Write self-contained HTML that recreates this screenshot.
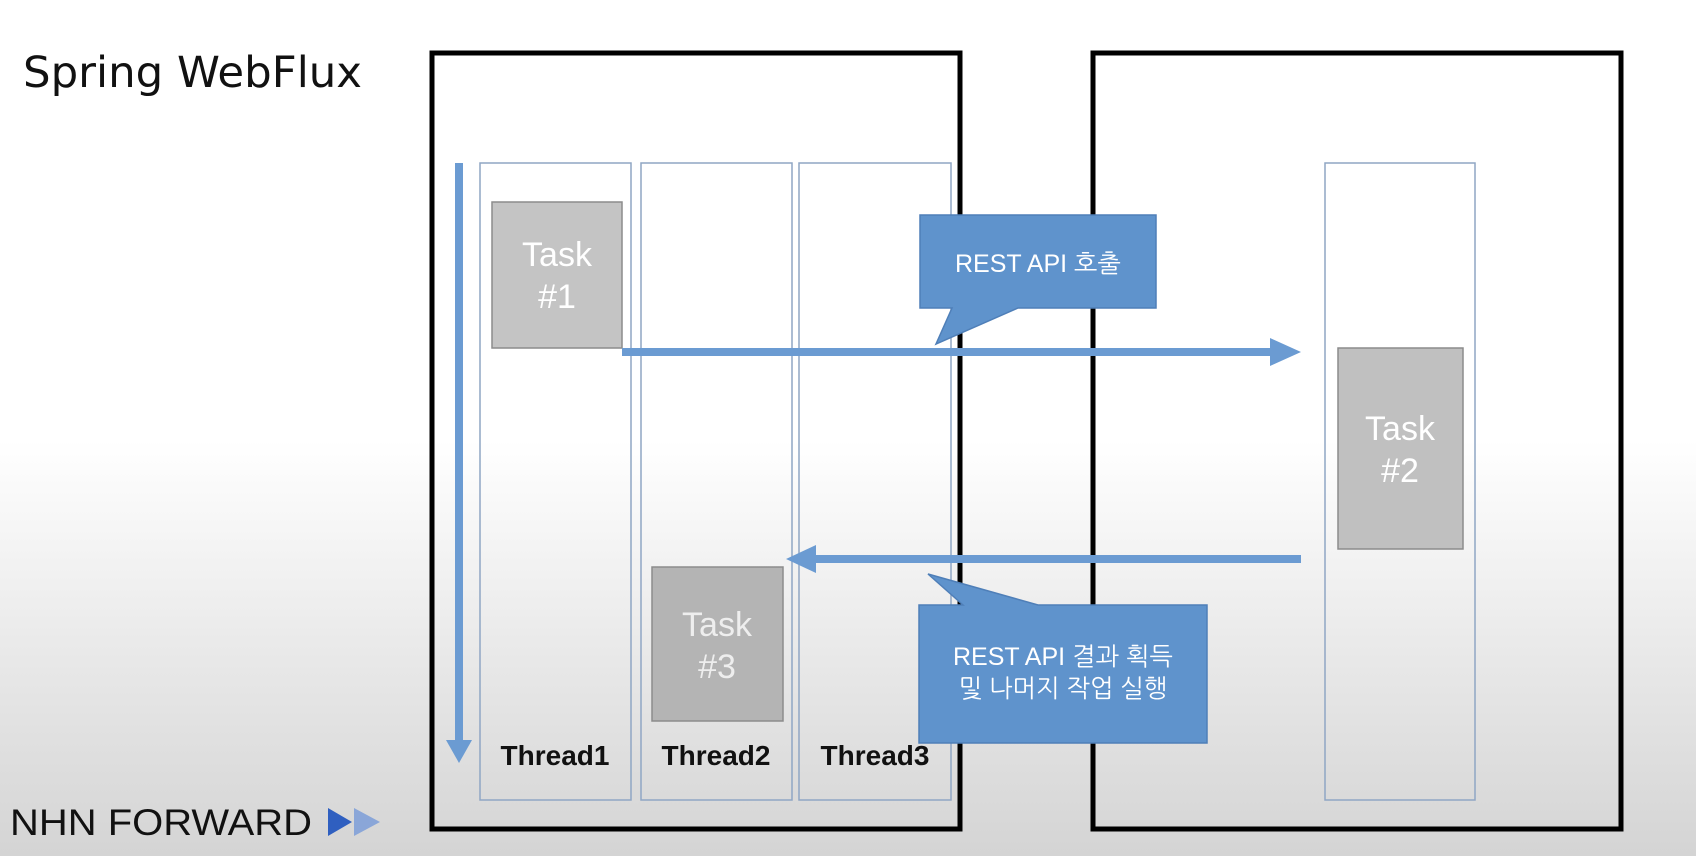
<!DOCTYPE html>
<html><head><meta charset="utf-8"><style>
html,body{margin:0;padding:0;}
body{width:1696px;height:856px;overflow:hidden;background:linear-gradient(to bottom,#ffffff 0px,#ffffff 440px,#e4e4e4 700px,#d4d4d4 856px);}
svg{position:absolute;left:0;top:0;}
text{font-family:"Liberation Sans","NanumGothic","Noto Sans CJK KR",sans-serif;}
</style></head><body>
<svg width="1696" height="856" viewBox="0 0 1696 856">
<text x="23" y="87" font-size="43" fill="#111" textLength="339" lengthAdjust="spacingAndGlyphs" style="font-family:'DejaVu Sans',sans-serif">Spring WebFlux</text>
<rect x="432" y="53" width="528" height="776" fill="none" stroke="#000" stroke-width="5"/>
<rect x="1093" y="53" width="528" height="776" fill="none" stroke="#000" stroke-width="5"/>
<rect x="480" y="163" width="151" height="637" fill="none" stroke="#8fa6c4" stroke-width="1.5"/>
<rect x="641" y="163" width="151" height="637" fill="none" stroke="#8fa6c4" stroke-width="1.5"/>
<rect x="799" y="163" width="152" height="637" fill="none" stroke="#8fa6c4" stroke-width="1.5"/>
<rect x="1325" y="163" width="150" height="637" fill="none" stroke="#8fa6c4" stroke-width="1.5"/>
<rect x="455" y="163" width="8" height="580" fill="#6b9bd2"/>
<polygon points="446,740 472,740 459,763" fill="#6b9bd2"/>
<rect x="492" y="202" width="130" height="146" fill="#c4c4c4" stroke="#8c8c8c" stroke-width="1.5"/>
<text x="557" y="266" font-size="34" fill="#fff" text-anchor="middle">Task</text>
<text x="557" y="308" font-size="34" fill="#fff" text-anchor="middle">#1</text>
<rect x="652" y="567" width="131" height="154" fill="#b4b4b4" stroke="#8c8c8c" stroke-width="1.5"/>
<text x="717" y="636" font-size="34" fill="#eee" text-anchor="middle">Task</text>
<text x="717" y="678" font-size="34" fill="#eee" text-anchor="middle">#3</text>
<rect x="1338" y="348" width="125" height="201" fill="#c0c0c0" stroke="#8c8c8c" stroke-width="1.5"/>
<text x="1400" y="440" font-size="34" fill="#fff" text-anchor="middle">Task</text>
<text x="1400" y="482" font-size="34" fill="#fff" text-anchor="middle">#2</text>
<text x="555" y="765" font-size="28" font-weight="bold" fill="#111" text-anchor="middle">Thread1</text>
<text x="716" y="765" font-size="28" font-weight="bold" fill="#111" text-anchor="middle">Thread2</text>
<text x="875" y="765" font-size="28" font-weight="bold" fill="#111" text-anchor="middle">Thread3</text>
<rect x="622" y="348" width="652" height="8" fill="#6b9bd2"/>
<polygon points="1270,338 1301,352 1270,366" fill="#6b9bd2"/>
<rect x="812" y="555" width="489" height="8" fill="#6b9bd2"/>
<polygon points="816,545 786,559 816,573" fill="#6b9bd2"/>
<polygon points="920,215 1156,215 1156,308 1018,308 936,344 952,308 920,308" fill="#5f93cc" stroke="#4f7fb8" stroke-width="1.5"/>
<text x="1038" y="272" font-size="25" fill="#fff" text-anchor="middle">REST API 호출</text>
<polygon points="928,574 1038,605 1207,605 1207,743 919,743 919,605 963,605" fill="#5f93cc" stroke="#4f7fb8" stroke-width="1.5"/>
<text x="1063" y="665" font-size="25" fill="#fff" text-anchor="middle">REST API 결과 획득</text>
<text x="1063" y="697" font-size="25" fill="#fff" text-anchor="middle">및 나머지 작업 실행</text>
<text x="10" y="835" font-size="37" fill="#111" textLength="302" lengthAdjust="spacingAndGlyphs">NHN FORWARD</text>
<polygon points="328,808 352,822 328,836" fill="#2f5fc0"/>
<polygon points="354,808 380,822 354,836" fill="#8aa6d8"/>
</svg>
</body></html>
